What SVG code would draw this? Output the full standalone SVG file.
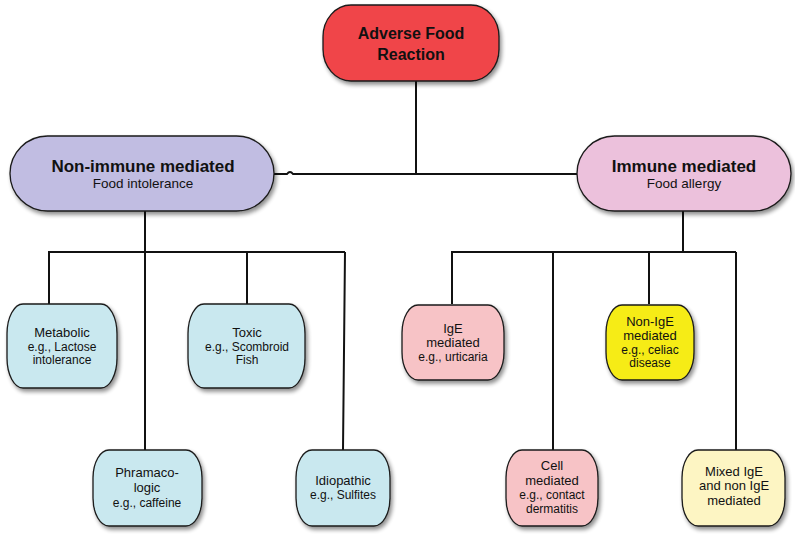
<svg xmlns="http://www.w3.org/2000/svg" width="795" height="535" viewBox="0 0 795 535">
<defs>
<filter id="sh" x="-20%" y="-20%" width="150%" height="150%">
<feGaussianBlur in="SourceAlpha" stdDeviation="2"/>
<feOffset dx="2" dy="3" result="b"/>
<feComponentTransfer><feFuncA type="linear" slope="0.45"/></feComponentTransfer>
<feMerge><feMergeNode/><feMergeNode in="SourceGraphic"/></feMerge>
</filter>
</defs>
<style>
.n{stroke:#1a1a1a;stroke-width:1.3;filter:url(#sh)}
.c{fill:none;stroke:#111;stroke-width:2}
text{font-family:"Liberation Sans",Arial,sans-serif;text-anchor:middle;fill:#111}
.b{font-weight:bold}
.t{font-size:13px}
.s{font-size:12px}
</style>
<rect width="795" height="535" fill="#fff"/>
<g id="connectors">
<path class="c" d="M416 81V174"/>
<path class="c" d="M274 174H287Q290 170 293 174H577"/>
<path class="c" d="M145 211V252M49 304V252H345M145 252V450M247 252V304M345 252L343 450"/>
<path class="c" d="M683 211V252M452 304V252H736M553 252V450M649 252V304M736 252V450"/>
</g>
<g id="root">
<rect class="n" x="323" y="5" width="176" height="76" rx="28" ry="32" fill="#f04548"/>
<text class="b" x="411" y="39" font-size="16">Adverse Food</text>
<text class="b" x="411" y="60" font-size="16">Reaction</text>
</g>
<g id="nonimmune">
<rect class="n" x="10" y="136" width="264" height="75" rx="37.5" fill="#c1bde2"/>
<text class="b" x="143" y="172" font-size="17">Non-immune mediated</text>
<text x="143" y="188" font-size="13.5">Food intolerance</text>
</g>
<g id="immune">
<rect class="n" x="577" y="136" width="214" height="75" rx="37.5" fill="#ecc1dc"/>
<text class="b" x="684" y="172" font-size="17">Immune mediated</text>
<text x="684" y="188" font-size="13.5">Food allergy</text>
</g>
<g id="metabolic">
<rect class="n" x="7" y="304" width="110" height="84" rx="16" ry="30" fill="#c9e8ef"/>
<text class="t" x="62" y="337">Metabolic</text>
<text class="s" x="62" y="351">e.g., Lactose</text>
<text class="s" x="62" y="364">intolerance</text>
</g>
<g id="toxic">
<rect class="n" x="188" y="304" width="117" height="84" rx="16" ry="30" fill="#c9e8ef"/>
<text class="t" x="247" y="337">Toxic</text>
<text class="s" x="247" y="351">e.g., Scombroid</text>
<text class="s" x="247" y="364">Fish</text>
</g>
<g id="pharmaco">
<rect class="n" x="93" y="450" width="109" height="76" rx="16" ry="28" fill="#c9e8ef"/>
<text class="t" x="147" y="477">Phramaco-</text>
<text class="t" x="147" y="492">logic</text>
<text class="s" x="147" y="507">e.g., caffeine</text>
</g>
<g id="idiopathic">
<rect class="n" x="296" y="450" width="94" height="76" rx="16" ry="28" fill="#c9e8ef"/>
<text class="t" x="343" y="485">Idiopathic</text>
<text class="s" x="343" y="499">e.g., Sulfites</text>
</g>
<g id="ige">
<rect class="n" x="402" y="305" width="102" height="75" rx="16" ry="28" fill="#f7c3c6"/>
<text class="t" x="453" y="333">IgE</text>
<text class="t" x="453" y="347">mediated</text>
<text class="s" x="453" y="361">e.g., urticaria</text>
</g>
<g id="nonige">
<rect class="n" x="606" y="305" width="88" height="75" rx="16" ry="28" fill="#f6ec16"/>
<text class="t" x="650" y="326">Non-IgE</text>
<text class="t" x="650" y="340">mediated</text>
<text class="s" x="650" y="354">e.g., celiac</text>
<text class="s" x="650" y="367">disease</text>
</g>
<g id="cell">
<rect class="n" x="506" y="450" width="92" height="76" rx="16" ry="28" fill="#f7c3c6"/>
<text class="t" x="552" y="470">Cell</text>
<text class="t" x="552" y="485">mediated</text>
<text class="s" x="552" y="499">e.g., contact</text>
<text class="s" x="552" y="513">dermatitis</text>
</g>
<g id="mixed">
<rect class="n" x="682" y="450" width="103" height="76" rx="16" ry="28" fill="#fdf5c3"/>
<text class="t" x="734" y="476">Mixed IgE</text>
<text class="t" x="734" y="490">and non IgE</text>
<text class="t" x="734" y="505">mediated</text>
</g>
</svg>
